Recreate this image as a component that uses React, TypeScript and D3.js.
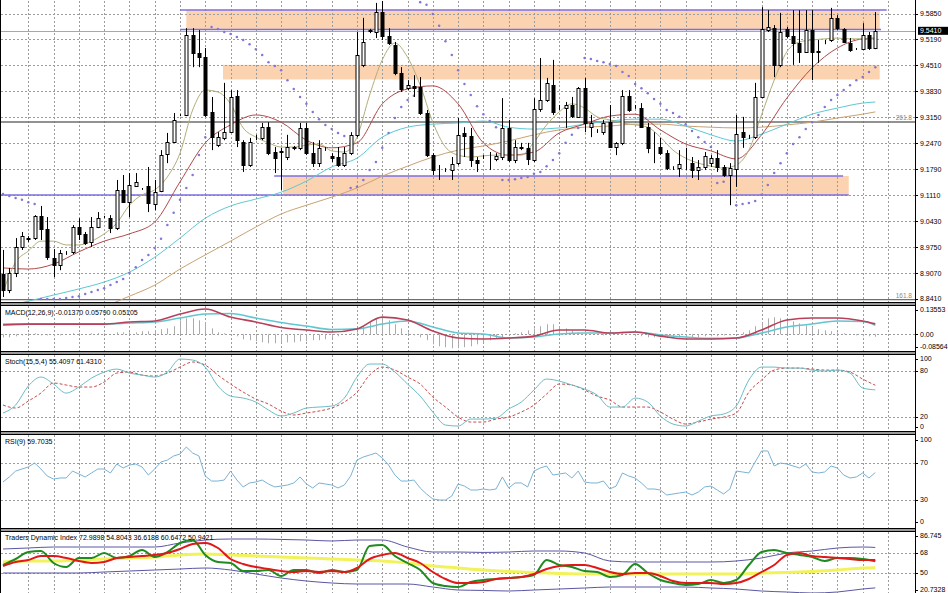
import React from 'react';
import * as d3 from 'd3';

// ---------------- DATA ----------------
const OPEN = [
  8.905, 8.863, 8.908, 8.976, 8.997, 8.999, 9.057, 9.023, 8.947, 8.928,
  8.960, 8.963, 9.028, 9.010, 8.989, 9.028, 9.054, 9.051, 9.025, 9.125,
  9.093, 9.135, 9.127, 9.135, 9.088, 9.122, 9.219, 9.250, 9.321, 9.321,
  9.530, 9.483, 9.472, 9.329, 9.242, 9.261, 9.276, 9.371, 9.250, 9.190,
  9.261, 9.261, 9.289, 9.224, 9.224, 9.211, 9.235, 9.235, 9.287, 9.221,
  9.195, 9.232, 9.214, 9.211, 9.190, 9.221, 9.269, 9.452, 9.541, 9.538,
  9.590, 9.527, 9.504, 9.431, 9.391, 9.397, 9.394, 9.326, 9.216, 9.177,
  9.177, 9.177, 9.195, 9.274, 9.266, 9.203, 9.211, 9.211, 9.206, 9.211,
  9.287, 9.203, 9.235, 9.235, 9.203, 9.337, 9.360, 9.399, 9.339, 9.339,
  9.347, 9.316, 9.391, 9.289, 9.279, 9.276, 9.302, 9.237, 9.248, 9.371,
  9.342, 9.339, 9.289, 9.237, 9.237, 9.221, 9.182, 9.182, 9.195, 9.195,
  9.177, 9.185, 9.195, 9.208, 9.185, 9.164, 9.180, 9.276, 9.263, 9.263,
  9.368, 9.543, 9.548, 9.452, 9.546, 9.527, 9.509, 9.486, 9.543, 9.486,
  9.512, 9.517, 9.575, 9.546, 9.509, 9.493, 9.493, 9.530, 9.496,
];
const HIGH = [
  8.968, 8.921, 8.999, 9.015, 9.004, 9.059, 9.083, 9.054, 8.970, 8.968,
  8.965, 9.033, 9.051, 9.015, 9.054, 9.067, 9.057, 9.059, 9.151, 9.164,
  9.169, 9.169, 9.130, 9.185, 9.151, 9.229, 9.274, 9.326, 9.323, 9.548,
  9.548, 9.543, 9.496, 9.368, 9.276, 9.405, 9.386, 9.386, 9.255, 9.261,
  9.269, 9.300, 9.302, 9.237, 9.235, 9.269, 9.240, 9.300, 9.300, 9.250,
  9.255, 9.237, 9.221, 9.237, 9.237, 9.276, 9.538, 9.575, 9.546, 9.614,
  9.622, 9.548, 9.512, 9.446, 9.412, 9.425, 9.420, 9.334, 9.221, 9.190,
  9.182, 9.211, 9.313, 9.289, 9.287, 9.211, 9.216, 9.224, 9.221, 9.365,
  9.308, 9.255, 9.248, 9.248, 9.365, 9.470, 9.418, 9.465, 9.347, 9.355,
  9.368, 9.394, 9.418, 9.321, 9.284, 9.308, 9.347, 9.250, 9.386, 9.386,
  9.347, 9.352, 9.300, 9.276, 9.261, 9.229, 9.187, 9.229, 9.235, 9.211,
  9.203, 9.224, 9.216, 9.229, 9.190, 9.195, 9.321, 9.316, 9.269, 9.405,
  9.603, 9.595, 9.556, 9.588, 9.551, 9.595, 9.595, 9.595, 9.595, 9.517,
  9.517, 9.601, 9.582, 9.548, 9.522, 9.496, 9.561, 9.538, 9.590,
];
const LOW = [
  8.845, 8.855, 8.897, 8.968, 8.989, 8.994, 8.994, 8.942, 8.897, 8.915,
  8.955, 8.957, 8.994, 8.981, 8.976, 9.025, 9.051, 9.012, 9.020, 9.091,
  9.054, 9.133, 9.125, 9.067, 9.072, 9.119, 9.195, 9.248, 9.318, 9.318,
  9.446, 9.446, 9.316, 9.229, 9.237, 9.255, 9.274, 9.237, 9.172, 9.185,
  9.255, 9.255, 9.216, 9.169, 9.125, 9.203, 9.229, 9.229, 9.216, 9.185,
  9.185, 9.227, 9.198, 9.185, 9.185, 9.216, 9.263, 9.446, 9.535, 9.522,
  9.517, 9.504, 9.425, 9.381, 9.386, 9.368, 9.321, 9.211, 9.164, 9.151,
  9.172, 9.151, 9.190, 9.211, 9.185, 9.172, 9.206, 9.177, 9.200, 9.203,
  9.198, 9.195, 9.229, 9.190, 9.198, 9.329, 9.355, 9.321, 9.334, 9.287,
  9.313, 9.313, 9.276, 9.263, 9.274, 9.269, 9.235, 9.216, 9.242, 9.329,
  9.337, 9.287, 9.221, 9.195, 9.216, 9.177, 9.177, 9.159, 9.177, 9.156,
  9.151, 9.177, 9.185, 9.172, 9.159, 9.085, 9.133, 9.235, 9.258, 9.258,
  9.365, 9.538, 9.420, 9.446, 9.522, 9.452, 9.457, 9.483, 9.412, 9.457,
  9.506, 9.512, 9.543, 9.509, 9.486, 9.491, 9.491, 9.491, 9.493,
];
const CLOSE = [
  8.863, 8.908, 8.976, 9.004, 8.998, 9.057, 9.023, 8.949, 8.928, 8.960,
  8.961, 9.028, 9.010, 8.986, 9.028, 9.051, 9.055, 9.025, 9.125, 9.093,
  9.138, 9.146, 9.128, 9.091, 9.119, 9.216, 9.250, 9.308, 9.322, 9.530,
  9.483, 9.472, 9.321, 9.263, 9.263, 9.276, 9.368, 9.255, 9.190, 9.250,
  9.262, 9.289, 9.221, 9.208, 9.227, 9.237, 9.236, 9.287, 9.221, 9.195,
  9.235, 9.233, 9.208, 9.190, 9.221, 9.269, 9.478, 9.512, 9.542, 9.590,
  9.527, 9.509, 9.431, 9.389, 9.399, 9.391, 9.326, 9.216, 9.177, 9.178,
  9.178, 9.193, 9.269, 9.266, 9.203, 9.195, 9.212, 9.212, 9.214, 9.287,
  9.203, 9.237, 9.236, 9.206, 9.337, 9.360, 9.405, 9.329, 9.340, 9.347,
  9.318, 9.391, 9.300, 9.300, 9.280, 9.300, 9.237, 9.248, 9.371, 9.334,
  9.343, 9.289, 9.235, 9.238, 9.221, 9.182, 9.183, 9.193, 9.196, 9.177,
  9.185, 9.214, 9.208, 9.185, 9.164, 9.182, 9.271, 9.263, 9.264, 9.368,
  9.546, 9.551, 9.452, 9.538, 9.527, 9.509, 9.486, 9.543, 9.486, 9.487,
  9.513, 9.575, 9.548, 9.512, 9.491, 9.494, 9.530, 9.496, 9.541,
];

// moving averages (fast: every 2 bars; others: every 4 bars, last = bar 138)
const MA_FAST = [
  8.858, 8.936, 8.965, 8.991, 8.991, 8.981, 8.981, 8.991, 9.010, 9.038,
  9.085, 9.112, 9.125, 9.159, 9.221, 9.334, 9.386, 9.381, 9.350, 9.287,
  9.263, 9.248, 9.237, 9.237, 9.242, 9.245, 9.227, 9.224, 9.263, 9.373,
  9.465, 9.509, 9.472, 9.399, 9.302, 9.237, 9.216, 9.211, 9.214, 9.216,
  9.216, 9.216, 9.250, 9.295, 9.329, 9.350, 9.339, 9.316, 9.308, 9.300,
  9.295, 9.289, 9.263, 9.229, 9.208, 9.195, 9.187, 9.182, 9.190, 9.229,
  9.321, 9.412, 9.486, 9.512, 9.517, 9.520, 9.522, 9.520, 9.520, 9.520,
];
const MA_MID = [
  8.921, 8.918, 8.931, 8.963, 8.991, 9.010, 9.041, 9.146, 9.248, 9.295,
  9.321, 9.302, 9.255, 9.235, 9.248, 9.350, 9.389, 9.397, 9.350, 9.248,
  9.216, 9.224, 9.274, 9.297, 9.318, 9.323, 9.282, 9.245, 9.227, 9.206,
  9.269, 9.365, 9.444, 9.496, 9.520, 9.522,
];
const MA_SLOW = [
  8.819, 8.834, 8.850, 8.866, 8.884, 8.910, 8.949, 8.999, 9.051, 9.083,
  9.101, 9.119, 9.148, 9.185, 9.208, 9.263, 9.289, 9.297, 9.300, 9.305,
  9.289, 9.284, 9.287, 9.297, 9.305, 9.310, 9.310, 9.292, 9.269, 9.253,
  9.271, 9.297, 9.323, 9.339, 9.352, 9.355,
];
const MA_LONG: (number | null)[] = [
  null, null, null, null, 8.819, 8.847, 8.876, 8.918, 8.955, 8.991,
  9.028, 9.062, 9.085, 9.106, 9.130, 9.161, 9.187, 9.211, 9.229, 9.240,
  9.253, 9.269, 9.282, 9.289, 9.292, 9.297, 9.297, 9.292, 9.289, 9.287,
  9.289, 9.295, 9.302, 9.313, 9.323, 9.329,
];
const SAR: (number | null)[] = [
  9.114, 9.109, 9.104, 9.099, 9.093, 9.088, 8.840, 8.840, 8.840, 8.840,
  8.842, 8.845, 8.847, 8.853, 8.858, 8.863, 8.868, 8.876, 8.884, 8.892,
  8.908, 8.923, 8.942, 8.955, 8.973, 8.997, 9.033, 9.065, 9.099, 9.130,
  9.164, 9.216, 9.263, 9.551, 9.546, 9.538, 9.533, 9.525, 9.517, 9.506,
  9.493, 9.478, 9.459, 9.449, 9.438, 9.412, 9.389, 9.368, 9.350, 9.329,
  9.310, 9.295, 9.284, 9.274, 9.266, 9.130, 9.133, 9.151, 9.177, 9.198,
  9.235, 9.274, 9.313, 9.342, 9.360, 9.371, 9.616, 9.609, 9.585, 9.554,
  9.514, 9.478, 9.438, 9.402, 9.373, 9.344, 9.323, 9.305, 9.289, 9.151,
  9.151, 9.153, 9.156, 9.159, 9.167, 9.172, 9.187, 9.203, 9.221, 9.248,
  9.269, 9.287, 9.470, 9.467, 9.462, 9.459, 9.454, 9.449, 9.433, 9.423,
  9.402, 9.391, 9.378, 9.363, 9.350, 9.334, 9.326, 9.316, 9.297, 9.279,
  9.263, 9.250, 9.237, 9.143, 9.146, null, 9.085, 9.088, 9.091, 9.096,
  9.112, 9.138, 9.169, 9.195, 9.221, 9.245, 9.263, 9.284, 9.302, 9.321,
  9.342, 9.360, 9.373, 9.386, 9.399, 9.412, 9.420, 9.433, 9.446,
];
const MAIN_TICKS = [9.585, 9.519, 9.451, 9.383, 9.315, 9.247, 9.179, 9.111, 9.043, 8.975, 8.907, 8.841];
const LAST_PRICE = 9.541;
const FIB_LEVELS = [[261.8, 9.3025], [161.8, 8.838]];
// zones: [barFrom, barTo, priceTop, priceBottom]
const ZONES = [
  [29.0, 138.7, 9.5955, 9.5444],
  [34.8, 138.7, 9.452, 9.4137],
  [44.3, 133.8, 9.1613, 9.1116],
];
// horizontal lines: [barFrom, barTo, price]
const HLINES = [
  [28.0, 139.8, 9.5955],
  [28.0, 138.9, 9.5444],
  [42.9, 132.9, 9.1613],
  [-0.5, 133.8, 9.1116],
];

// MACD
const MACD_HIST = [
  -0.017, -0.017, -0.011, -0.006, 0.006, 0.006, -0.006, -0.006, -0.011, -0.006,
  0.000, 0.006, 0.006, 0.000, 0.006, 0.006, 0.006, 0.000, 0.011, 0.011,
  0.011, 0.011, 0.017, 0.017, 0.022, 0.028, 0.033, 0.045, 0.078, 0.089,
  0.089, 0.078, 0.067, 0.033, 0.011, 0.006, -0.006, -0.011, -0.028, -0.033,
  -0.039, -0.045, -0.050, -0.050, -0.050, -0.045, -0.045, -0.039, -0.039, -0.033,
  -0.033, -0.028, -0.022, -0.011, 0.000, 0.006, 0.011, 0.045, 0.067, 0.084,
  0.089, 0.078, 0.056, 0.033, 0.011, -0.006, -0.017, -0.033, -0.056, -0.067,
  -0.072, -0.078, -0.078, -0.072, -0.067, -0.056, -0.045, -0.033, -0.022, -0.017,
  -0.006, 0.006, 0.011, 0.022, 0.033, 0.045, 0.056, 0.056, 0.045, 0.033,
  0.022, 0.011, 0.006, 0.000, 0.000, -0.006, -0.006, 0.000, 0.006, 0.000,
  -0.011, -0.011, -0.017, -0.017, -0.017, -0.022, -0.022, -0.017, -0.017, -0.017,
  -0.017, -0.011, -0.011, -0.011, -0.006, -0.006, 0.000, 0.011, 0.022, 0.045,
  0.067, 0.089, 0.095, 0.089, 0.084, 0.072, 0.061, 0.050, 0.039, 0.028,
  0.022, 0.017, 0.011, 0.006, 0.000, -0.006, -0.011, -0.011, -0.014,
];
const MACD_MAIN = [
  0.052, 0.057, 0.057, 0.057, 0.057, 0.069, 0.074, 0.113, 0.141, 0.096,
  0.069, 0.038, 0.024, 0.013, 0.030, 0.096, 0.080, 0.018, -0.021, -0.026,
  -0.021, -0.010, 0.024, 0.024, 0.007, 0.013, -0.010, -0.026, -0.026, -0.021,
  0.024, 0.080, 0.091, 0.091, 0.074, 0.058,
];
const MACD_SIGNAL = [
  0.057, 0.057, 0.057, 0.057, 0.057, 0.063, 0.069, 0.091, 0.113, 0.116,
  0.091, 0.066, 0.046, 0.027, 0.030, 0.057, 0.074, 0.041, 0.007, 0.002,
  -0.021, -0.015, 0.002, 0.007, 0.007, 0.013, -0.004, -0.015, -0.023, -0.021,
  0.007, 0.041, 0.057, 0.074, 0.071, 0.051,
];

// Stochastic (every 2 bars)
const STOCH_MAIN = [
  25.2, 35.6, 60.4, 72.1, 63.0, 51.2, 59.1, 70.8, 78.6, 82.5,
  77.3, 74.7, 72.1, 78.6, 95.6, 94.3, 85.1, 60.4, 47.3, 44.7,
  39.5, 29.1, 21.3, 25.2, 31.7, 33.0, 34.3, 44.7, 72.1, 89.1,
  89.1, 78.6, 63.0, 47.3, 26.5, 9.5, 8.2, 17.3, 17.3, 18.6,
  30.4, 39.5, 55.2, 69.5, 66.9, 61.7, 56.5, 48.6, 33.0, 33.0,
  44.7, 39.5, 21.3, 10.8, 8.2, 14.7, 21.3, 23.9, 34.3, 68.2,
  85.1, 85.1, 83.8, 83.8, 81.2, 79.9, 81.2, 77.3, 57.8, 55.4,
];
const STOCH_SIGNAL = [
  35.6, 31.7, 40.8, 51.2, 64.3, 61.7, 59.1, 59.1, 65.6, 77.3,
  78.6, 74.7, 73.4, 77.3, 85.1, 91.7, 87.7, 74.7, 63.0, 52.5,
  43.4, 36.9, 27.8, 22.6, 25.2, 27.8, 31.7, 39.5, 52.5, 74.7,
  85.1, 81.2, 72.1, 63.0, 46.0, 33.0, 19.9, 13.4, 13.4, 17.3,
  19.9, 26.5, 35.6, 49.9, 63.0, 61.7, 55.2, 47.3, 42.1, 33.0,
  33.0, 33.0, 26.5, 17.3, 10.8, 13.4, 17.3, 19.9, 25.2, 52.5,
  68.2, 81.2, 83.8, 83.8, 82.5, 81.2, 81.2, 78.6, 69.5, 61.4,
];

// RSI (every bar)
const RSI = [
  49.5, 54.9, 61.3, 63.5, 65.7, 70.0, 63.5, 55.9, 52.7, 53.8,
  53.8, 61.3, 58.1, 54.9, 59.2, 63.5, 63.5, 59.2, 68.9, 64.6,
  67.8, 68.9, 65.7, 57.0, 63.5, 71.1, 73.2, 77.6, 79.7, 87.3,
  80.8, 77.6, 55.9, 50.5, 50.5, 51.6, 61.3, 51.6, 44.1, 48.4,
  49.5, 51.6, 47.3, 44.1, 45.1, 46.2, 48.4, 54.9, 47.3, 43.0,
  48.4, 47.3, 46.2, 43.0, 46.2, 55.9, 73.2, 76.5, 78.6, 80.8,
  75.4, 67.8, 57.0, 50.5, 50.5, 51.6, 43.0, 36.5, 31.1, 30.0,
  30.0, 34.3, 47.3, 45.1, 40.8, 40.8, 41.9, 40.8, 41.9, 54.9,
  43.0, 48.4, 48.4, 44.1, 61.3, 64.6, 66.8, 57.0, 58.1, 59.2,
  53.8, 61.3, 49.5, 48.4, 48.4, 50.5, 41.9, 45.1, 59.2, 55.9,
  53.8, 48.4, 41.9, 41.9, 40.8, 35.4, 36.5, 37.6, 38.6, 35.4,
  38.6, 44.1, 45.1, 40.8, 36.5, 41.9, 61.3, 60.3, 59.2, 71.1,
  83.0, 83.0, 66.8, 70.0, 68.9, 66.8, 64.6, 68.9, 60.3, 59.2,
  60.3, 66.8, 64.6, 57.0, 53.8, 54.9, 59.2, 53.8, 59.7,
];

// Traders Dynamic Index
const TDI_UPPER = [
  71.6, 72.5, 73.4, 73.4, 73.4, 73.4, 73.4, 77.0, 79.7, 80.6,
  80.6, 80.2, 79.7, 78.8, 79.7, 79.7, 73.4, 68.9, 68.9, 68.5,
  68.9, 69.8, 69.8, 68.0, 60.8, 59.9, 59.9, 59.9, 59.9, 60.8,
  63.5, 68.0, 69.8, 72.5, 73.4, 73.0,
];
const TDI_LOWER = [
  50.0, 50.0, 50.0, 50.0, 50.9, 51.8, 52.7, 53.6, 54.5, 52.7,
  49.1, 45.5, 42.8, 41.0, 40.1, 40.1, 40.1, 37.4, 34.7, 34.3,
  33.8, 34.7, 35.6, 36.5, 37.4, 37.4, 37.4, 37.4, 36.5, 35.6,
  33.8, 32.9, 32.0, 32.9, 35.6, 36.6,
];
const TDI_BASE = [
  59.9, 60.8, 60.8, 61.7, 62.6, 63.5, 64.4, 66.2, 67.1, 66.2,
  65.3, 64.4, 63.5, 62.6, 61.7, 60.8, 59.0, 56.3, 54.5, 52.7,
  51.4, 50.5, 49.6, 49.1, 49.1, 49.1, 49.1, 49.1, 49.1, 49.1,
  50.0, 50.5, 51.4, 52.7, 54.5, 54.8,
];
const TDI_SIGNAL = [
  56.3, 59.9, 61.7, 65.3, 65.3, 63.5, 60.8, 59.0, 59.9, 63.5,
  64.4, 65.3, 66.2, 68.0, 71.6, 76.1, 77.0, 72.5, 62.6, 58.1,
  55.4, 53.6, 51.8, 50.9, 51.8, 50.9, 51.8, 50.9, 54.5, 62.6,
  66.2, 68.0, 63.5, 59.0, 50.9, 44.6, 41.0, 41.0, 41.9, 44.6,
  45.5, 46.4, 49.1, 53.6, 56.3, 57.2, 57.2, 54.5, 50.9, 49.1,
  50.0, 50.0, 47.3, 42.8, 41.0, 41.0, 41.0, 40.1, 41.0, 44.6,
  50.9, 57.2, 66.2, 68.0, 65.3, 64.4, 63.5, 62.6, 61.7, 61.7,
];
const TDI_PRICE = [
  57.2, 62.6, 68.9, 69.8, 59.0, 55.4, 63.5, 63.5, 68.0, 63.5,
  65.3, 70.7, 64.4, 68.9, 77.0, 79.7, 66.2, 59.9, 59.0, 51.8,
  51.8, 52.7, 47.3, 52.7, 52.7, 50.0, 52.7, 50.9, 52.7, 74.3,
  75.2, 65.3, 59.0, 52.7, 41.0, 38.3, 37.4, 41.9, 43.7, 44.6,
  45.5, 46.4, 48.2, 61.7, 57.2, 55.4, 51.8, 50.9, 46.4, 48.2,
  58.1, 50.0, 43.7, 41.0, 39.2, 40.1, 43.7, 41.0, 43.7, 57.2,
  68.9, 70.7, 68.0, 66.2, 64.4, 60.8, 63.5, 63.5, 62.6, 60.6,
];

// ---------------- LAYOUT ----------------
const W = 948, H = 593;
const PR = 915; // right edge of plotting area
const LAST = 138;
const x = d3.scaleLinear().domain([0, LAST]).range([3, 875.3]);

const P = {
  main: { top: 0, bottom: 303 },
  macd: { top: 305, bottom: 352 },
  stoch: { top: 354, bottom: 432 },
  rsi: { top: 434, bottom: 529 },
  tdi: { top: 531, bottom: 620 },
};
const yMain = d3.scaleLinear().domain([8.841, 9.585]).range([298.5, 14]);
const yMacd = d3.scaleLinear().domain([0, 0.13553]).range([334.3, 310]);
const yStoch = d3.scaleLinear().domain([20, 80]).range([417, 371]);
const yRsi = d3.scaleLinear().domain([30, 70]).range([500, 463]);
const yTdi = d3.scaleLinear().domain([50, 68]).range([573, 553]);

const FONT = "'Liberation Sans', Arial, sans-serif";
const GRID = '#9c9c9c';

type V = number | null;
function path(vals: V[], step: number, ys: (v: number) => number, curve: d3.CurveFactory = d3.curveLinear) {
  const pts: [number, V][] = vals.map((v, k) => [Math.min(k * step, LAST), v]);
  return d3.line<[number, V]>()
    .defined(d => d[1] != null)
    .x(d => x(d[0]))
    .y(d => ys(d[1] as number))
    .curve(curve)(pts) || '';
}

const gridBars = d3.range(4, 141, 4);

function Panel({ id, top, bottom }: { id: string; top: number; bottom: number }) {
  return (
    <clipPath id={id}>
      <rect x={1} y={top + 1} width={PR - 1} height={bottom - top - 1} />
    </clipPath>
  );
}

function VGrid({ top, bottom }: { top: number; bottom: number }) {
  return (
    <g>
      {gridBars.map(b => (
        <line key={b} x1={Math.round(x(b)) + 0.5} x2={Math.round(x(b)) + 0.5} y1={top + 1} y2={bottom}
          stroke={GRID} strokeDasharray="2,2" strokeWidth={1} />
      ))}
    </g>
  );
}

function HGrid({ ys }: { ys: number[] }) {
  return (
    <g>
      {ys.map((y, i) => (
        <line key={i} x1={1} x2={PR} y1={Math.round(y) + 0.5} y2={Math.round(y) + 0.5}
          stroke={GRID} strokeDasharray="2,2" strokeWidth={1} />
      ))}
    </g>
  );
}

function AxisLabel({ y, text }: { y: number; text: string }) {
  return (
    <g>
      <line x1={PR} x2={PR + 3} y1={Math.round(y) + 0.5} y2={Math.round(y) + 0.5} stroke="#000" />
      <text x={PR + 5} y={y} dy="0.35em" fontSize={7} fontFamily={FONT} fill="#000">{text}</text>
    </g>
  );
}

export default function App() {
  const panelsArr = [P.main, P.macd, P.stoch, P.rsi, P.tdi];
  return (
    <svg width={W} height={H} viewBox={`0 0 ${W} ${H}`}
      style={{ position: 'absolute', left: 0, top: 0, background: '#fff' }}>
      <defs>
        <Panel id="cMain" {...P.main} />
        <Panel id="cMacd" {...P.macd} />
        <Panel id="cStoch" {...P.stoch} />
        <Panel id="cRsi" {...P.rsi} />
        <Panel id="cTdi" {...P.tdi} />
      </defs>
      <rect x={0} y={0} width={W} height={H} fill="#fff" />

      {/* ---------- MAIN ---------- */}
      <g clipPath="url(#cMain)">
        {ZONES.map((z, i) => (
          <rect key={i} x={x(z[0])} width={x(z[1]) - x(z[0])} y={yMain(z[2])} height={yMain(z[3]) - yMain(z[2])}
            fill="#fcd3b0" />
        ))}
        <VGrid top={P.main.top} bottom={P.main.bottom} />
        <HGrid ys={MAIN_TICKS.map(yMain)} />
        {HLINES.map((l, i) => (
          <line key={i} x1={Math.max(0, x(l[0]))} x2={x(l[1])} y1={yMain(l[2])} y2={yMain(l[2])}
            stroke="#7d6fe0" strokeWidth={1.6} />
        ))}
        {FIB_LEVELS.map(([lv, p]) => (
          <g key={lv}>
            <line x1={0} x2={PR} y1={yMain(p)} y2={yMain(p)} stroke="#6e6e6e" strokeWidth={1.4} />
            <text x={PR - 3} y={yMain(p) - 2} textAnchor="end" fontSize={6.5} fontFamily={FONT} fill="#8a8a8a">{lv.toFixed(1)}</text>
          </g>
        ))}
        <line x1={0} x2={PR} y1={Math.round(yMain(LAST_PRICE)) + 0.5} y2={Math.round(yMain(LAST_PRICE)) + 0.5}
          stroke="#a8a8a8" strokeWidth={1} />
        <path d={path(MA_LONG, 4, yMain, d3.curveMonotoneX)} fill="none" stroke="#c9a273" strokeWidth={1} />
        <path d={path(MA_SLOW, 4, yMain, d3.curveMonotoneX)} fill="none" stroke="#5ec8d3" strokeWidth={1} />
        <path d={path(MA_MID, 4, yMain, d3.curveMonotoneX)} fill="none" stroke="#b04a4a" strokeWidth={1} />
        <path d={path(MA_FAST, 2, yMain, d3.curveMonotoneX)} fill="none" stroke="#b2ae7a" strokeWidth={1} />
        {SAR.map((s, i) => s == null ? null : (
          <circle key={i} cx={x(i)} cy={yMain(s)} r={1.25} fill="#8276d6" />
        ))}
        {OPEN.map((o, i) => {
          const c = CLOSE[i];
          const cx = Math.round(x(i)) + 0.5;
          const yT = Math.round(yMain(Math.max(o, c)));
          const yB = Math.round(yMain(Math.min(o, c)));
          const bull = c >= o;
          return (
            <g key={i}>
              <line x1={cx} x2={cx} y1={yMain(HIGH[i])} y2={yMain(LOW[i])} stroke="#000" strokeWidth={1} />
              <rect x={cx - 1.5} y={yT + 0.5} width={3} height={Math.max(0, yB - yT)}
                fill={bull ? '#fff' : '#000'} stroke="#000" strokeWidth={1} />
            </g>
          );
        })}
      </g>
      {MAIN_TICKS.map(t => <AxisLabel key={t} y={yMain(t)} text={t.toFixed(4)} />)}
      <rect x={PR + 3} y={yMain(LAST_PRICE) - 4} width={30} height={8} fill="#000" />
      <text x={PR + 5} y={yMain(LAST_PRICE)} dy="0.35em" fontSize={7} fontFamily={FONT} fill="#fff">{LAST_PRICE.toFixed(4)}</text>

      {/* ---------- MACD ---------- */}
      <g clipPath="url(#cMacd)">
        <VGrid top={P.macd.top} bottom={P.macd.bottom} />
        <HGrid ys={[yMacd(0)]} />
        {MACD_HIST.map((v, i) => (
          <line key={i} x1={Math.round(x(i)) + 0.5} x2={Math.round(x(i)) + 0.5} y1={yMacd(0)} y2={yMacd(v)}
            stroke="#ababab" strokeWidth={1} />
        ))}
        <path d={path(MACD_SIGNAL, 4, yMacd, d3.curveMonotoneX)} fill="none" stroke="#62c6d0" strokeWidth={1.6} />
        <path d={path(MACD_MAIN, 4, yMacd, d3.curveMonotoneX)} fill="none" stroke="#b8405a" strokeWidth={1.6} />
      </g>
      <text x={5} y={P.macd.top + 8} dy="0.35em" fontSize={7} fontFamily={FONT} fill="#000">MACD(12,26,9) -0.01370 0.05790 0.05105</text>
      <AxisLabel y={P.macd.top + 5} text="0.13553" />
      <AxisLabel y={yMacd(0)} text="0.00" />
      <AxisLabel y={P.macd.bottom - 5} text="-0.08564" />

      {/* ---------- STOCH ---------- */}
      <g clipPath="url(#cStoch)">
        <VGrid top={P.stoch.top} bottom={P.stoch.bottom} />
        <HGrid ys={[yStoch(80), yStoch(20)]} />
        <path d={path(STOCH_SIGNAL, 2, yStoch, d3.curveMonotoneX)} fill="none" stroke="#c84a4a" strokeWidth={1} strokeDasharray="3,2" />
        <path d={path(STOCH_MAIN, 2, yStoch, d3.curveMonotoneX)} fill="none" stroke="#6cbcc4" strokeWidth={1} />
      </g>
      <text x={5} y={P.stoch.top + 8} dy="0.35em" fontSize={7} fontFamily={FONT} fill="#000">Stoch(15,5,4) 55.4097 61.4310</text>
      <AxisLabel y={P.stoch.top + 5} text="100" />
      <AxisLabel y={yStoch(80)} text="80" />
      <AxisLabel y={yStoch(20)} text="20" />
      <AxisLabel y={P.stoch.bottom - 5} text="0" />

      {/* ---------- RSI ---------- */}
      <g clipPath="url(#cRsi)">
        <VGrid top={P.rsi.top} bottom={P.rsi.bottom} />
        <HGrid ys={[yRsi(70), yRsi(30)]} />
        <path d={path(RSI, 1, yRsi)} fill="none" stroke="#7ab2d4" strokeWidth={1} />
      </g>
      <text x={5} y={P.rsi.top + 8} dy="0.35em" fontSize={7} fontFamily={FONT} fill="#000">RSI(9) 59.7035</text>
      <AxisLabel y={P.rsi.top + 6} text="100" />
      <AxisLabel y={yRsi(70)} text="70" />
      <AxisLabel y={yRsi(30)} text="30" />
      <AxisLabel y={P.rsi.bottom - 7} text="0" />

      {/* ---------- TDI ---------- */}
      <g clipPath="url(#cTdi)">
        <VGrid top={P.tdi.top} bottom={P.tdi.bottom} />
        <HGrid ys={[yTdi(68), yTdi(50)]} />
        <path d={path(TDI_BASE, 4, yTdi, d3.curveMonotoneX)} fill="none" stroke="#f2f25a" strokeWidth={3} />
        <path d={path(TDI_UPPER, 4, yTdi, d3.curveMonotoneX)} fill="none" stroke="#5a56a6" strokeWidth={1} />
        <path d={path(TDI_LOWER, 4, yTdi, d3.curveMonotoneX)} fill="none" stroke="#5a56a6" strokeWidth={1} />
        <path d={path(TDI_PRICE, 2, yTdi, d3.curveMonotoneX)} fill="none" stroke="#1f8a1f" strokeWidth={2} />
        <path d={path(TDI_SIGNAL, 2, yTdi, d3.curveMonotoneX)} fill="none" stroke="#e01818" strokeWidth={2} />
      </g>
      <text x={5} y={P.tdi.top + 7} dy="0.35em" fontSize={7} fontFamily={FONT} fill="#000">Traders Dynamic Index 72.9898 54.8043 36.6188 60.6472 50.9421</text>
      <AxisLabel y={P.tdi.top + 5} text="86.745" />
      <AxisLabel y={yTdi(68)} text="68" />
      <AxisLabel y={yTdi(50)} text="50" />
      <AxisLabel y={590} text="20.7328" />

      {/* ---------- FRAMES ---------- */}
      {panelsArr.map((p, i) => (
        <g key={i}>
          {i > 0 && <line x1={0} x2={PR + 1} y1={p.top + 0.5} y2={p.top + 0.5} stroke="#000" strokeWidth={1} />}
          <line x1={0} x2={PR + 1} y1={p.bottom - 0.5} y2={p.bottom - 0.5} stroke="#000" strokeWidth={1} />
        </g>
      ))}
      {panelsArr.slice(0, 4).map((p, i) => (
        <rect key={'g' + i} x={0} y={p.bottom} width={PR + 1} height={panelsArr[i + 1].top - p.bottom} fill="#9a9a9a" />
      ))}
      <line x1={0.5} x2={0.5} y1={0} y2={H} stroke="#000" strokeWidth={1} />
      <line x1={PR + 0.5} x2={PR + 0.5} y1={0} y2={H} stroke="#000" strokeWidth={1} />
    </svg>
  );
}
